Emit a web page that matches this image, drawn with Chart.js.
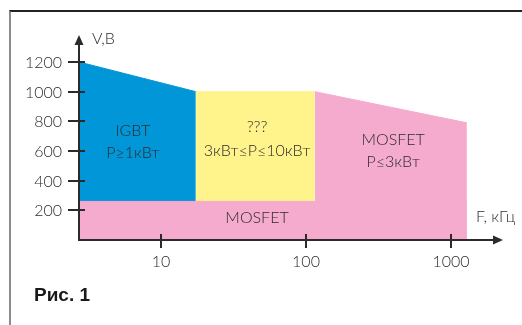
<!DOCTYPE html>
<html>
<head>
<meta charset="utf-8">
<script src="https://cdn.jsdelivr.net/npm/chart.js@4/dist/chart.umd.min.js"></script>
<style>
  body { margin: 0; background: #fff; }
  #wrap { position: relative; width: 522px; height: 325px; overflow: hidden; }
  #frame { position: absolute; left: 9px; top: 10px; width: 520px; height: 320px;
    border-top: 2px solid #222; border-left: 2px solid #8c8c8c; }
  #cap { position: absolute; left: 34px; top: 284px; font: bold 19px "Liberation Sans", Arial, sans-serif; color: #1a1a1a; }
  canvas { position: absolute; left: 0; top: 0; }
</style>
</head>
<body>
<div id="wrap">
  <div id="frame"></div>
  <canvas id="chart" width="522" height="325"></canvas>
  <div id="cap">Рис. 1</div>
</div>
<script>
// frequency (kHz) / voltage (V) outlines of each zone
const igbtF = [2.72, 17.4];
const igbtV = [1200, 1000];
const midF = [17.4, 115];
const midV = [1000, 1000];
const mosHiF = [115, 1290];
const mosHiV = [1000, 790];
const mosLoF = [2.72, 1290];
const mosLoV = [260, 260];

const xTicks = [10, 100, 1000];
const yTicks = [200, 400, 600, 800, 1000, 1200];

const blue = '#0096d8';
const yellow = '#fff38c';
const pink = '#f5abcd';
const ink = '#2e2a2c';

const pts = (xs, ys) => xs.map((x, i) => ({ x: x, y: ys[i] }));

function zone(data, color, order) {
  return {
    type: 'line',
    data: data,
    fill: 'origin',
    backgroundColor: color,
    borderColor: color,
    borderWidth: 1,
    pointRadius: 0,
    tension: 0,
    order: order
  };
}

// text notes, anchored in data units
const notes = [
  { t: 'IGBT', x: 6.4, y: 735 },
  { t: 'P≥1кВт', x: 6.4, y: 590 },
  { t: '???', x: 46, y: 760 },
  { t: '3кВт≤P≤10кВт', x: 46, y: 598 },
  { t: 'MOSFET', x: 46, y: 148 },
  { t: 'MOSFET', x: 400, y: 675 },
  { t: 'P≤3кВт', x: 400, y: 527 }
];

const font = '300 16px Lato, "Open Sans", sans-serif';

const axesPlugin = {
  id: 'axes',
  afterDatasetsDraw(chart) {
    const ctx = chart.ctx;
    const xs = chart.scales.x, ys = chart.scales.y;
    const x0 = chart.chartArea.left, y0 = chart.chartArea.bottom;
    ctx.save();
    ctx.strokeStyle = ink;
    ctx.fillStyle = ink;
    ctx.lineWidth = 2;
    // axis lines
    ctx.beginPath();
    ctx.moveTo(x0, 42);
    ctx.lineTo(x0, y0);
    ctx.lineTo(chart.chartArea.right - 6, y0);
    ctx.stroke();
    // arrows
    ctx.beginPath();
    ctx.moveTo(x0, 35);
    ctx.lineTo(x0 - 4.5, 45);
    ctx.lineTo(x0 + 4.5, 45);
    ctx.closePath();
    ctx.fill();
    const xr = chart.chartArea.right;
    ctx.beginPath();
    ctx.moveTo(xr, y0);
    ctx.lineTo(xr - 10, y0 - 4.5);
    ctx.lineTo(xr - 10, y0 + 4.5);
    ctx.closePath();
    ctx.fill();
    // ticks
    ctx.font = font;
    ctx.textBaseline = 'middle';
    ctx.textAlign = 'right';
    yTicks.forEach(v => {
      const y = Math.round(ys.getPixelForValue(v));
      ctx.beginPath();
      ctx.moveTo(x0 - 11, y);
      ctx.lineTo(x0 + 6, y);
      ctx.stroke();
      ctx.fillText(String(v), x0 - 17, y + 1);
    });
    ctx.textAlign = 'center';
    xTicks.forEach(v => {
      const x = Math.round(xs.getPixelForValue(v));
      ctx.beginPath();
      ctx.moveTo(x, y0 - 6);
      ctx.lineTo(x, y0 + 8);
      ctx.stroke();
      ctx.fillText(String(v), x, y0 + 22);
    });
    // axis titles
    ctx.textAlign = 'left';
    ctx.fillText('V,B', x0 + 13, 39);
    ctx.fillText('F, кГц', 476, 217);
    // zone notes
    ctx.textAlign = 'center';
    notes.forEach(n => {
      ctx.fillText(n.t, xs.getPixelForValue(n.x), ys.getPixelForValue(n.y));
    });
    ctx.restore();
  }
};

new Chart(document.getElementById('chart'), {
  type: 'line',
  data: {
    datasets: [
      zone(pts(mosLoF, mosLoV), pink, 0),
      zone(pts(mosHiF, mosHiV), pink, 1),
      zone(pts(midF, midV), yellow, 2),
      zone(pts(igbtF, igbtV), blue, 3)
    ]
  },
  options: {
    responsive: false,
    animation: false,
    layout: { padding: { left: 79, right: 19, top: 35, bottom: 85 } },
    plugins: { legend: { display: false }, tooltip: { enabled: false } },
    scales: {
      x: { type: 'logarithmic', min: 2.72, max: 2290, display: false },
      y: { type: 'linear', min: 0, max: 1382, display: false }
    }
  },
  plugins: [axesPlugin]
});
</script>
</body>
</html>
